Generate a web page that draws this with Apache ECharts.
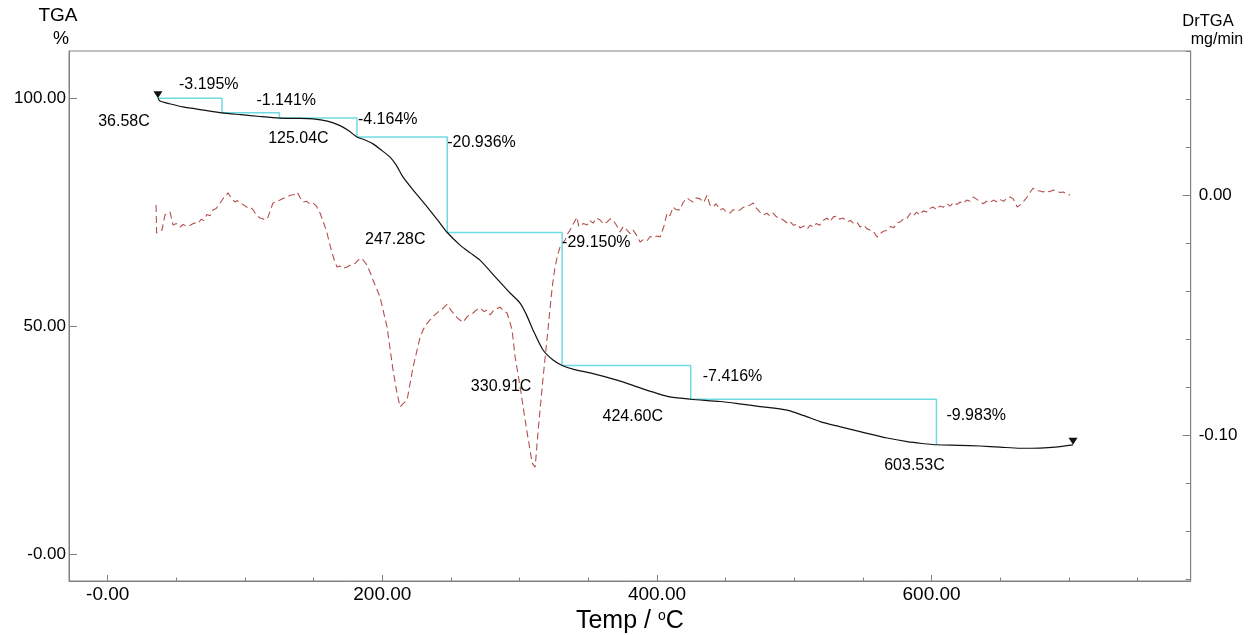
<!DOCTYPE html>
<html>
<head>
<meta charset="utf-8">
<title>TGA / DrTGA</title>
<script src="https://cdn.jsdelivr.net/npm/echarts@6/dist/echarts.min.js"></script>
<style>
  html, body { margin: 0; padding: 0; background: #ffffff; }
  #chart { width: 1258px; height: 635px; }
</style>
</head>
<body>
<div id="chart"></div>
<script>
// ---- data -------------------------------------------------------------
// Step analysis: temperatures (°C) bounding each mass-loss step, and the loss (%) of each step
const stepTemps = [36.58, 83.2, 125.04, 181.5, 247.28, 330.91, 424.60, 603.53];
const stepLosses = [3.195, 1.141, 4.164, 20.936, 29.150, 7.416, 9.983];
const startWeight = 100;
// Step temperatures printed next to the curve
const labelledTemps = [36.58, 125.04, 247.28, 330.91, 424.60, 603.53];

// TGA mass curve: [temperature °C, weight %]
const tgaCurve = [
  [36.58, 100], [38.1, 99.4], [45, 98.8], [54.8, 98.1], [70, 97.4], [83.2, 96.805],
  [97, 96.4], [111, 96.0], [125.04, 95.664], [137, 95.6], [149.5, 95.5], [160, 95.0],
  [169.2, 94.0], [175, 93.0], [181.5, 91.5], [187, 90.9], [193.2, 90.0], [199, 88.7],
  [205.6, 87.1], [210, 85.4], [215.1, 82.7], [224, 79.3], [232.6, 76.2], [240, 73.4],
  [247.28, 70.564], [256.6, 67.8], [264, 66.1], [271.1, 64.5], [282, 60.9], [293, 57.3],
  [300.3, 55.1], [305, 52.5], [309.7, 49.2], [317, 44.8], [324.3, 42.6], [330.91, 41.414],
  [340, 40.5], [351.3, 39.8], [370.9, 38.2], [387.7, 36.5], [400, 35.3], [409.5, 34.5],
  [424.60, 33.998], [446, 33.5], [460, 33.0], [475.1, 32.4], [494.7, 31.6], [507, 30.4],
  [518.8, 29.1], [533, 28.0], [547.9, 26.9], [567.6, 25.5], [582.2, 24.7], [593, 24.3],
  [603.53, 24.015], [620, 23.9], [635.3, 23.75], [650, 23.5], [664.4, 23.25], [679, 23.3],
  [690, 23.5], [703, 24.0]
];

// Derivative curve: [temperature °C, mg/min]
const drtgaCurve = [
  [35.2, -0.0040], [35.6, -0.0157], [37.5, -0.0150], [39.5, -0.0145], [41.7, -0.0082], [43.5, -0.0075],
  [45.4, -0.0070], [47.6, -0.0124], [50, -0.0118], [52.7, -0.0132], [55, -0.0122], [57.5, -0.0130],
  [60, -0.0125], [63, -0.0116], [65.8, -0.0118], [68, -0.0100], [70, -0.0105], [72.3, -0.0080],
  [74.5, -0.0085], [76.7, -0.0061], [79, -0.0055], [81.8, -0.0032], [84.5, -0.0010], [87.6, 0.0010],
  [90, -0.0012], [92.7, -0.0028], [94.5, -0.0022], [96.3, -0.0032], [99, -0.0040], [101.4, -0.0050],
  [103.5, -0.0048], [105.8, -0.0060], [108, -0.0080], [110.9, -0.0095], [113, -0.0098], [114.6, -0.0103],
  [116.8, -0.0091], [118.5, -0.0060], [120.4, -0.0032], [123, -0.0025], [125.5, -0.0020], [128, -0.0012],
  [130.6, -0.0007], [133, 0.0000], [135.5, 0.0002], [137.9, 0.0014], [140, -0.0008], [142.2, -0.0028],
  [145, -0.0025], [147, -0.0035], [149.5, -0.0032], [152, -0.0045], [154.6, -0.0074], [157, -0.0110],
  [159.7, -0.0157], [161.5, -0.0200], [163.4, -0.0241], [165, -0.0270], [167, -0.0299], [169, -0.0295],
  [171, -0.0305], [174.3, -0.0299], [177, -0.0290], [180, -0.0285], [183.8, -0.0262], [186, -0.0270],
  [188.8, -0.0291], [191, -0.0320], [193.2, -0.0353], [198.3, -0.0424], [203.4, -0.0549], [207.8, -0.0729],
  [210.5, -0.0820], [212.9, -0.0883], [215, -0.0870], [218, -0.0854], [222.4, -0.0716], [227.5, -0.0591],
  [231, -0.0545], [234.7, -0.0520], [238, -0.0500], [242, -0.0479], [244.5, -0.0470], [247.1, -0.0455],
  [250, -0.0480], [254.4, -0.0510], [256.5, -0.0520], [258.8, -0.0529], [262, -0.0505], [266.1, -0.0491],
  [268.5, -0.0478], [271.2, -0.0470], [274, -0.0485], [276, -0.0480], [278.5, -0.0499], [281, -0.0480],
  [283, -0.0475], [285.7, -0.0466], [288, -0.0480], [290.8, -0.0491], [292.5, -0.0520], [294.5, -0.0562],
  [296.7, -0.0675], [300.4, -0.0800], [303, -0.0900], [305.5, -0.0992], [307.5, -0.1060], [309.1, -0.1117],
  [311.3, -0.1134], [313.5, -0.0979], [317.1, -0.0758], [320.1, -0.0590], [322, -0.0480], [323.7, -0.0383],
  [325.5, -0.0310], [327.3, -0.0257], [329.4, -0.0216], [331, -0.0200], [333.1, -0.0187], [335, -0.0160],
  [336.7, -0.0145], [339, -0.0120], [341.8, -0.0091], [343, -0.0130], [344, -0.0136], [346.5, -0.0118],
  [349.1, -0.0124], [351, -0.0105], [353.5, -0.0116], [356, -0.0095], [358.6, -0.0103], [361, -0.0120],
  [363.7, -0.0111], [366, -0.0098], [368, -0.0103], [370.5, -0.0125], [373.1, -0.0153], [375.5, -0.0130],
  [378.2, -0.0145], [380.5, -0.0160], [382.6, -0.0145], [385, -0.0165], [387.7, -0.0195], [390, -0.0185],
  [392.8, -0.0190], [395, -0.0172], [397.2, -0.0178], [400, -0.0170], [402.3, -0.0174], [405, -0.0130],
  [407.4, -0.0074], [409.5, -0.0085], [411.7, -0.0049], [414, -0.0060], [416.8, -0.0061], [419, -0.0030],
  [421.9, -0.0011], [424, -0.0020], [426.3, -0.0028], [428.5, -0.0010], [431.4, -0.0015], [434, -0.0030],
  [436.5, 0.0000], [438.5, -0.0040], [440.9, -0.0049], [443, -0.0035], [445.9, -0.0061], [448.2, -0.0055],
  [450.5, -0.0070], [453.2, -0.0074], [455.5, -0.0060], [458, -0.0065], [460.5, -0.0061], [463, -0.0050],
  [466, -0.0045], [468, -0.0040], [470, -0.0032], [472.5, -0.0055], [475, -0.0070], [477.3, -0.0082],
  [480, -0.0075], [482, -0.0085], [484.6, -0.0074], [487, -0.0090], [490, -0.0095], [492.5, -0.0105],
  [494.8, -0.0116], [497, -0.0110], [499.5, -0.0125], [502, -0.0120], [504.2, -0.0136], [507, -0.0128],
  [509.5, -0.0140], [511.5, -0.0125], [513.7, -0.0132], [516, -0.0118], [518.5, -0.0125], [521, -0.0105],
  [523.9, -0.0095], [526, -0.0110], [528.5, -0.0090], [531.2, -0.0086], [533, -0.0100], [535.5, -0.0095],
  [538.5, -0.0110], [541, -0.0105], [543.5, -0.0120], [546, -0.0115], [547.9, -0.0132], [550.5, -0.0125],
  [553, -0.0140], [555.2, -0.0145], [557.5, -0.0150], [560.3, -0.0174], [562.5, -0.0160], [565, -0.0150],
  [567.6, -0.0145], [570, -0.0130], [572.5, -0.0135], [574.9, -0.0115], [577.5, -0.0110], [580, -0.0095],
  [582.2, -0.0095], [584.5, -0.0075], [587, -0.0085], [589, -0.0070], [591.6, -0.0082], [594, -0.0065],
  [596.5, -0.0070], [598.5, -0.0055], [601.1, -0.0049], [603.5, -0.0060], [606, -0.0045], [608.5, -0.0050],
  [611.3, -0.0035], [613.5, -0.0045], [616, -0.0030], [618.5, -0.0038], [620.8, -0.0028], [623, -0.0035],
  [625.5, -0.0020], [628, -0.0025], [630.3, -0.0007], [632.5, -0.0015], [635, -0.0025], [637.6, -0.0035],
  [640, -0.0025], [642.5, -0.0030], [645, -0.0020], [647.8, -0.0028], [650, -0.0018], [652.5, -0.0025],
  [655, -0.0010], [657.2, -0.0007], [659.5, -0.0015], [662.4, -0.0049], [664.5, -0.0040], [667, -0.0025],
  [669.6, -0.0007], [672, 0.0015], [674, 0.0030], [676.5, 0.0020], [679, 0.0018], [681.3, 0.0014],
  [683.5, 0.0020], [686, 0.0015], [688.6, 0.0022], [691, 0.0018], [693.5, 0.0012], [695.8, 0.0014],
  [698.5, 0.0005], [700.9, 0.0001]
];

// Axis ticks
const tempTicks = [0, 200, 400, 600];
const tempMinorTicks = [50, 100, 150, 250, 300, 350, 450, 500, 550, 650, 700, 750];
const weightTicks = [0, 50, 100];
const rateTicks = [0, -0.1];
const rateMinorTicks = [0.06, 0.04, 0.02, -0.02, -0.04, -0.06, -0.08, -0.12, -0.14, -0.16];

// ---- derived series ---------------------------------------------------
const stepWeights = [startWeight];
stepLosses.forEach(function (loss, i) { stepWeights.push(stepWeights[i] - loss); });
const stepLine = stepTemps.map(function (t, i) { return [t, stepWeights[i]]; });

// label placement (pixel offsets from the anchoring corner)
const tempLabelOffsets = [[-34, 23], [19, 21], [-52, 7], [-61, 21], [-58, 17], [-22, 21]];
const lossLabelOffsets = [[-43, -14], [-23, -12], [1, 1.5], [0, 5.5], [0, 10.5], [12, 11], [10, 16]];

const tempLabelData = labelledTemps.map(function (t, k) {
  const i = stepTemps.indexOf(t);
  return {
    value: [t, stepWeights[i]],
    label: { offset: tempLabelOffsets[k], formatter: t.toFixed(2) + 'C' }
  };
});
const lossLabelData = stepLosses.map(function (loss, i) {
  return {
    value: [stepTemps[i + 1], stepWeights[i]],
    label: { offset: lossLabelOffsets[i], formatter: '-' + loss.toFixed(3) + '%' }
  };
});
const endMarks = [tgaCurve[0], tgaCurve[tgaCurve.length - 1]];

// ---- chart ------------------------------------------------------------
const FONT = '"Liberation Sans", Arial, sans-serif';
const AXIS_GRAY = '#808080';
const TEXT = '#000000';

const fmtZero = function (v) { return v === 0 ? '-0.00' : v.toFixed(2); };

const chart = echarts.init(document.getElementById('chart'), null, { renderer: 'canvas' });

const annotationLabel = function (align) {
  return {
    show: true, position: 'inside', align: align, verticalAlign: 'middle',
    color: TEXT, opacity: 1, fontSize: 16, fontFamily: FONT
  };
};

chart.setOption({
  animation: false,
  backgroundColor: '#ffffff',
  textStyle: { fontFamily: FONT },
  grid: {
    left: 69, right: 67.3, top: 51, bottom: 54,
    outerBoundsMode: 'none', containLabel: false,
    show: true, borderColor: AXIS_GRAY, borderWidth: 1, backgroundColor: 'transparent'
  },
  graphic: [
    { type: 'text', x: 58, y: 16, style: { text: 'TGA', fill: TEXT, font: '19px ' + FONT, textAlign: 'center', textVerticalAlign: 'middle', align: 'center', verticalAlign: 'middle' } },
    { type: 'text', x: 61, y: 39, style: { text: '%', fill: TEXT, font: '18px ' + FONT, textAlign: 'center', textVerticalAlign: 'middle', align: 'center', verticalAlign: 'middle' } },
    { type: 'text', x: 1208, y: 21, style: { text: 'DrTGA', fill: TEXT, font: '16.5px ' + FONT, textAlign: 'center', textVerticalAlign: 'middle', align: 'center', verticalAlign: 'middle' } },
    { type: 'text', x: 1217, y: 40, style: { text: 'mg/min', fill: TEXT, font: '16px ' + FONT, textAlign: 'center', textVerticalAlign: 'middle', align: 'center', verticalAlign: 'middle' } }
  ],
  xAxis: [
    {
      type: 'value', min: -28.2, max: 788.7, position: 'bottom',
      axisLine: { show: true, onZero: false, lineStyle: { color: AXIS_GRAY, width: 1 } },
      axisTick: { show: true, inside: true, length: 6, customValues: tempTicks, lineStyle: { color: AXIS_GRAY } },
      axisLabel: { show: true, customValues: tempTicks, formatter: fmtZero, color: TEXT, fontSize: 19, fontFamily: FONT, margin: 4 },
      splitLine: { show: false },
      name: 'Temp / {sup|o}C',
      nameLocation: 'middle',
      nameGap: 20,
      nameTextStyle: {
        color: TEXT, fontSize: 25, fontFamily: FONT,
        rich: { sup: { fontSize: 14, fontFamily: FONT, color: TEXT, verticalAlign: 'top', lineHeight: 25 } }
      }
    },
    {
      type: 'value', min: -28.2, max: 788.7, position: 'bottom',
      axisLine: { show: false, onZero: false },
      axisTick: { show: true, inside: true, length: 3.5, customValues: tempMinorTicks, lineStyle: { color: AXIS_GRAY } },
      axisLabel: { show: false },
      splitLine: { show: false }
    }
  ],
  yAxis: [
    {
      type: 'value', min: -5.86, max: 110.37, position: 'left',
      axisLine: { show: true, onZero: false, lineStyle: { color: AXIS_GRAY, width: 1 } },
      axisTick: { show: true, inside: true, length: 8, customValues: weightTicks, lineStyle: { color: AXIS_GRAY } },
      axisLabel: { show: true, customValues: weightTicks, formatter: fmtZero, color: TEXT, fontSize: 17, fontFamily: FONT, margin: 3 },
      splitLine: { show: false }
    },
    {
      type: 'value', min: -0.1609, max: 0.0602, position: 'right',
      axisLine: { show: true, onZero: false, lineStyle: { color: AXIS_GRAY, width: 1 } },
      axisTick: { show: true, inside: true, length: 8, customValues: rateTicks, lineStyle: { color: AXIS_GRAY } },
      axisLabel: { show: true, customValues: rateTicks, formatter: function (v) { return v.toFixed(2); }, color: TEXT, fontSize: 17, fontFamily: FONT, margin: 8 },
      splitLine: { show: false }
    },
    {
      type: 'value', min: -0.1609, max: 0.0602, position: 'right',
      axisLine: { show: false, onZero: false },
      axisTick: { show: true, inside: true, length: 5, customValues: rateMinorTicks, lineStyle: { color: AXIS_GRAY } },
      axisLabel: { show: false },
      splitLine: { show: false }
    }
  ],
  series: [
    {
      name: 'DrTGA', type: 'line', xAxisIndex: 0, yAxisIndex: 1, data: drtgaCurve,
      showSymbol: false, symbol: 'none', z: 2,
      lineStyle: { color: '#b4504c', width: 1.1, type: [7, 4] }
    },
    {
      name: 'Steps', type: 'line', step: 'end', xAxisIndex: 0, yAxisIndex: 0, data: stepLine,
      showSymbol: false, symbol: 'none', z: 3,
      lineStyle: { color: '#6fdbe0', width: 1.5 }
    },
    {
      name: 'TGA', type: 'line', xAxisIndex: 0, yAxisIndex: 0, data: tgaCurve,
      showSymbol: false, symbol: 'none', z: 4, smooth: 0.25,
      lineStyle: { color: '#111111', width: 1.2 }
    },
    {
      name: 'Ends', type: 'scatter', xAxisIndex: 0, yAxisIndex: 0, data: endMarks,
      symbol: 'triangle', symbolRotate: 180, symbolSize: [9, 7], symbolOffset: [0, -3.5], z: 5,
      itemStyle: { color: '#111111', opacity: 1 }
    },
    {
      name: 'TempLabels', type: 'scatter', xAxisIndex: 0, yAxisIndex: 0, data: tempLabelData,
      symbolSize: 0, z: 6, silent: true, itemStyle: { opacity: 1 },
      label: annotationLabel('center')
    },
    {
      name: 'LossLabels', type: 'scatter', xAxisIndex: 0, yAxisIndex: 0, data: lossLabelData,
      symbolSize: 0, z: 6, silent: true, itemStyle: { opacity: 1 },
      label: annotationLabel('left')
    }
  ]
});
</script>
</body>
</html>
